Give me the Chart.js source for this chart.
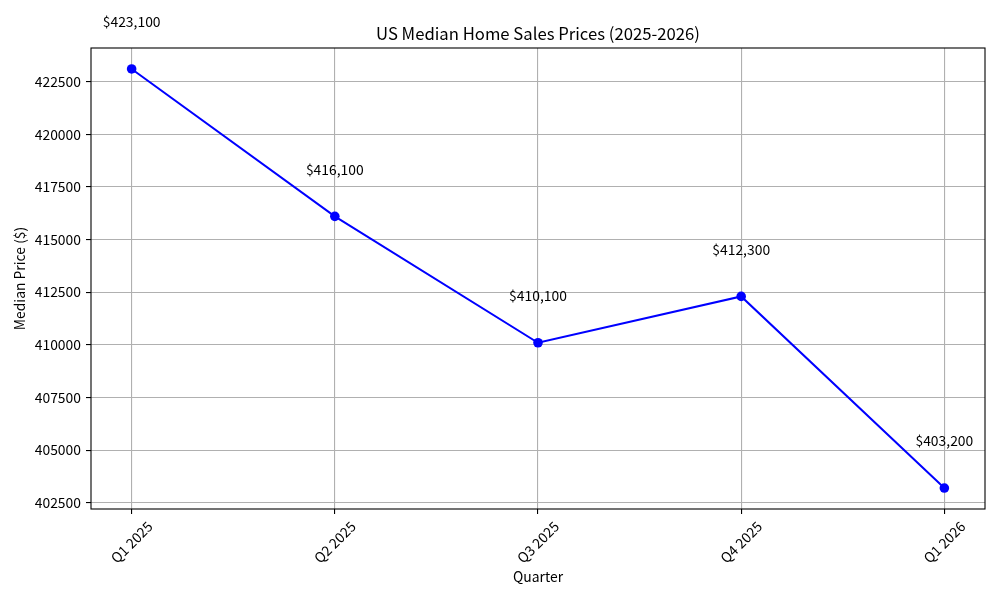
<!DOCTYPE html>
<html>
<head>
<meta charset="utf-8">
<script src="https://cdn.jsdelivr.net/npm/chart.js@4"></script>
<style>
html,body{margin:0;padding:0;background:#fff;}
#wrap{width:1000px;height:600px;}
</style>
</head>
<body>
<div id="wrap"><canvas id="c" width="1000" height="600"></canvas></div>
<script>
const quarters = ["Q1 2025", "Q2 2025", "Q3 2025", "Q4 2025", "Q1 2026"];
const prices = [423100, 416100, 410100, 412300, 403200];
const priceLabels = ["$423,100", "$416,100", "$410,100", "$412,300", "$403,200"];
const yTicks = [402500, 405000, 407500, 410000, 412500, 415000, 417500, 420000, 422500];

const FONT = '"Noto Sans CJK JP", "Noto Sans", sans-serif';
const pts = prices.map((v, i) => ({x: i, y: v}));

const dMin = Math.min(...prices), dMax = Math.max(...prices);
const pad = (dMax - dMin) * 0.05;

const overlay = {
  id: 'overlay',
  afterDraw(chart) {
    const ctx = chart.ctx;
    const a = chart.chartArea;
    const xs = chart.scales.x, ys = chart.scales.y;
    ctx.save();
    ctx.strokeStyle = '#000';
    ctx.lineWidth = 1.1;
    ctx.strokeRect(a.left, a.top, a.right - a.left, a.bottom - a.top);
    ctx.fillStyle = '#000';
    ctx.font = '16.7px ' + FONT;
    ctx.textAlign = 'center';
    ctx.textBaseline = 'alphabetic';
    ctx.fillText('US Median Home Sales Prices (2025-2026)', (a.left + a.right) / 2, 40);
    ctx.font = '13.9px ' + FONT;
    prices.forEach((v, i) => {
      const px = xs.getPixelForValue(i), py = ys.getPixelForValue(v);
      ctx.fillText(priceLabels[i], px, py - 41.7);
    });
    ctx.textBaseline = 'middle';
    quarters.forEach((q, i) => {
      const px = xs.getPixelForValue(i);
      const w = ctx.measureText(q).width;
      const h = 14;
      const top = a.bottom + 5 + 4.9;
      const cy = top + (w + h) / (2 * Math.SQRT2);
      ctx.save();
      ctx.translate(px, cy);
      ctx.rotate(-Math.PI / 4);
      ctx.fillText(q, 0, 0);
      ctx.restore();
    });
    ctx.fillText('Quarter', (a.left + a.right) / 2, 577);
    ctx.save();
    ctx.translate(20, (a.top + a.bottom) / 2);
    ctx.rotate(-Math.PI / 2);
    ctx.fillText('Median Price ($)', 0, 0);
    ctx.restore();
    ctx.restore();
  }
};

new Chart(document.getElementById('c'), {
  type: 'line',
  data: {
    datasets: [{
      data: pts,
      borderColor: '#0000ff',
      backgroundColor: '#0000ff',
      borderWidth: 2,
      pointRadius: 4.8,
      pointHoverRadius: 4.8,
      pointBorderWidth: 0,
      tension: 0,
      fill: false
    }]
  },
  options: {
    responsive: false,
    animation: false,
    devicePixelRatio: 1,
    layout: {padding: {top: 48, right: 15, bottom: 0, left: 0}},
    plugins: {legend: {display: false}, tooltip: {enabled: false}, title: {display: false}},
    scales: {
      x: {
        type: 'linear',
        min: -0.2,
        max: 4.2,
        afterBuildTicks: s => { s.ticks = quarters.map((q, i) => ({value: i})); },
        afterFit: s => { s.height = 91; },
        border: {display: false},
        grid: {color: '#b0b0b0', lineWidth: 1.1, tickColor: '#000', tickLength: 5, drawTicks: true},
        ticks: {color: 'rgba(0,0,0,0)', maxRotation: 0, minRotation: 0, font: {family: FONT, size: 13.9}, callback: v => quarters[v] || ''}
      },
      y: {
        min: dMin - pad,
        max: dMax + pad,
        afterBuildTicks: s => { s.ticks = yTicks.map(v => ({value: v})); },
        afterFit: s => { s.width = 91; },
        border: {display: false},
        grid: {color: '#b0b0b0', lineWidth: 1.1, tickColor: '#000', tickLength: 5},
        ticks: {color: '#000', padding: 5, font: {family: FONT, size: 13.9}, callback: v => String(v)}
      }
    }
  },
  plugins: [overlay]
});
</script>
</body>
</html>
